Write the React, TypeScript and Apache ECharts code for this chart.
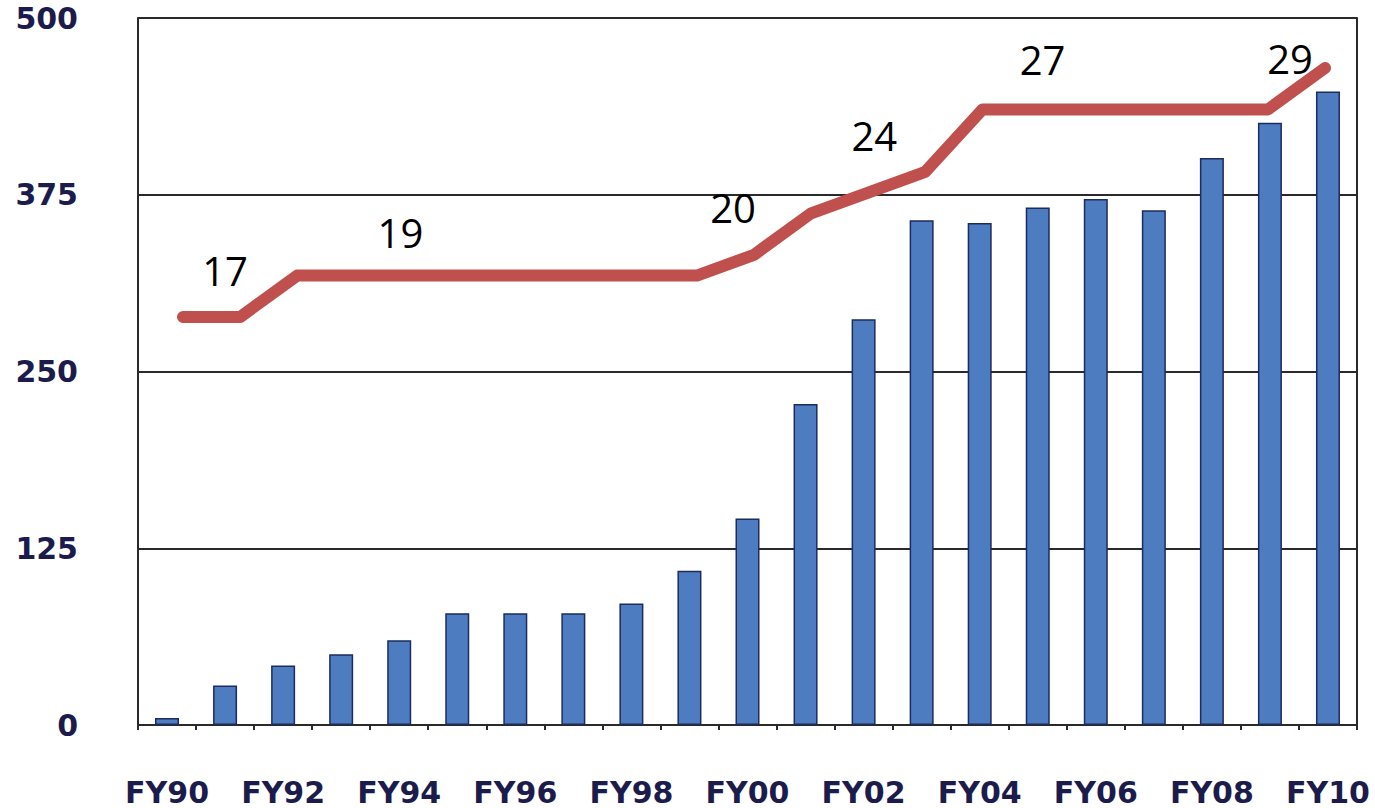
import React, { useEffect, useRef } from "react";
import * as echarts from "echarts";

const years = ["FY90","FY91","FY92","FY93","FY94","FY95","FY96","FY97","FY98","FY99","FY00","FY01","FY02","FY03","FY04","FY05","FY06","FY07","FY08","FY09","FY10"];
const barValues = [5, 28, 42, 50, 60, 79, 79, 79, 86, 109, 146, 227, 287, 357, 355, 366, 372, 364, 401, 426, 448];
const lineValues = [17, 17, 19, 19, 19, 19, 19, 19, 19, 19, 20, 22, 23, 24, 27, 27, 27, 27, 27, 27, 29];
const yTicks = [0, 125, 250, 375, 500];
const labelledIdx = [1, 4, 10, 13, 15, 20];
const labelOffsets: Record<number, [number, number]> = {
  1: [-15, -47], 4: [-11, -43], 10: [-21, -47], 13: [-51, -36], 15: [3, -50], 20: [-35, -10],
};

export default function App() {
  const ref = useRef<HTMLDivElement>(null);
  useEffect(() => {
    if (!ref.current) return;
    const chart = echarts.init(ref.current, null, { renderer: "svg" });
    const axisColor = "#2a2a2a";
    const labelColor = "#1c1c4c";
    chart.setOption({
      animation: false,
      backgroundColor: "#ffffff",
      grid: { left: 138, right: 18, top: 18, bottom: 83, containLabel: false },
      xAxis: [
        {
          type: "category",
          data: years,
          boundaryGap: true,
          axisLine: { show: true, lineStyle: { color: axisColor, width: 2 } },
          axisTick: { show: true, interval: 0, length: 5, lineStyle: { color: axisColor, width: 2 } },
          axisLabel: {
            interval: 1,
            margin: 52,
            color: labelColor,
            fontFamily: "DejaVu Sans",
            fontWeight: "bold",
            fontSize: 30,
          },
        },
        {
          type: "value",
          min: -0.788,
          max: 20.56,
          show: false,
        },
      ],
      yAxis: [
        {
          type: "value",
          min: yTicks[0],
          max: yTicks[yTicks.length - 1],
          interval: 125,
          axisLine: { show: true, onZero: false, lineStyle: { color: axisColor, width: 2 } },
          axisTick: { show: false },
          splitLine: { show: true, lineStyle: { color: axisColor, width: 2 } },
          axisLabel: {
            margin: 60,
            color: labelColor,
            fontFamily: "DejaVu Sans",
            fontWeight: "bold",
            fontSize: 30,
            padding: [8, 0, 0, 0],
          },
        },
        {
          type: "value",
          min: -2.66,
          max: 31.41,
          position: "right",
          axisLine: { show: true, onZero: false, lineStyle: { color: axisColor, width: 2 } },
          axisTick: { show: false },
          axisLabel: { show: false },
          splitLine: { show: false },
        },
      ],
      series: [
        {
          type: "bar",
          xAxisIndex: 0,
          yAxisIndex: 0,
          data: barValues,
          barWidth: 24,
          itemStyle: { color: "#4d7cc0", borderColor: "#1d2b5e", borderWidth: 1.5 },
        },
        {
          type: "line",
          xAxisIndex: 1,
          yAxisIndex: 1,
          symbol: "circle",
          symbolSize: 1,
          showSymbol: true,
          itemStyle: { color: "#c0504d" },
          lineStyle: { color: "#c0504d", width: 12, cap: "round", join: "round" },
          label: { show: false },
          data: lineValues.map((v, i) => {
            const item: any = { value: [i, v] };
            if (labelledIdx.includes(i)) {
              item.label = {
                show: true,
                position: "inside",
                offset: labelOffsets[i],
                formatter: String(v),
                color: "#000000",
                fontFamily: "Open Sans",
                fontSize: 40,
              };
            }
            return item;
          }),
          z: 5,
        },
      ],
    });
    return () => chart.dispose();
  }, []);
  return (
    <div
      ref={ref}
      style={{ position: "fixed", left: 0, top: 0, width: 1375, height: 808, background: "#fff" }}
    />
  );
}
